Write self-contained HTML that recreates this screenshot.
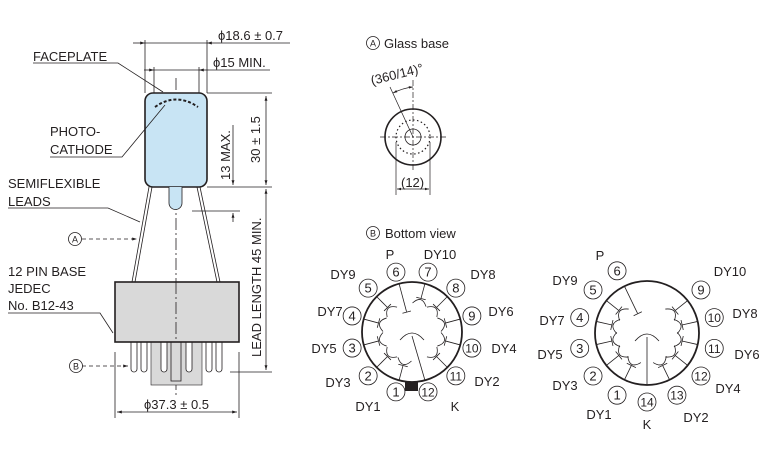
<!DOCTYPE html>
<html><head><meta charset="utf-8"><style>
html,body{margin:0;padding:0;background:#fff;}
svg{display:block;font-family:"Liberation Sans",sans-serif;}
text{fill:#231f20;}
</style></head><body>
<svg id="s" width="768" height="461" viewBox="0 0 768 461" xmlns="http://www.w3.org/2000/svg">
<defs>
<marker id="ar" viewBox="0 0 10 10" refX="10" refY="5" markerWidth="6" markerHeight="6" orient="auto-start-reverse"><path d="M0,2 L10,5 L0,8 z" fill="#231f20"/></marker>
</defs>
<g stroke="#231f20" fill="none" stroke-width="0.8">
<line x1="145" y1="40" x2="145" y2="93"/><line x1="207" y1="40" x2="207" y2="93"/>
<line x1="133" y1="43" x2="145" y2="43" marker-end="url(#ar)"/>
<line x1="145" y1="43" x2="207" y2="43"/>
<line x1="220" y1="43" x2="207" y2="43" marker-end="url(#ar)"/>
<line x1="220" y1="43" x2="290" y2="43"/>
<line x1="154" y1="67" x2="154" y2="100"/><line x1="199" y1="67" x2="199" y2="100"/>
<line x1="144" y1="70" x2="154" y2="70" marker-end="url(#ar)"/>
<line x1="154" y1="70" x2="199" y2="70"/>
<line x1="209" y1="70" x2="199" y2="70" marker-end="url(#ar)"/>
<line x1="209" y1="70" x2="270" y2="70"/>
<line x1="207" y1="93" x2="272" y2="93"/>
<line x1="207" y1="187" x2="272" y2="187"/>
<line x1="192" y1="211" x2="240" y2="211"/>
<line x1="230" y1="372" x2="272" y2="372"/>
<line x1="266" y1="96" x2="266" y2="185" marker-start="url(#ar)" marker-end="url(#ar)"/>
<line x1="266" y1="189" x2="266" y2="370" marker-start="url(#ar)" marker-end="url(#ar)"/>
<line x1="233" y1="125" x2="233" y2="185" marker-end="url(#ar)"/>
<line x1="233" y1="222" x2="233" y2="213" marker-end="url(#ar)"/>
<line x1="176" y1="78" x2="176" y2="395" stroke-dasharray="12,3,2,3"/>
</g>
<rect x="145" y="93" width="62" height="94" rx="8" fill="#c8e4f4" stroke="#231f20" stroke-width="1.6"/>
<path d="M169,187 v16 a6.5,6.5 0 0 0 13,0 v-16" fill="#c8e4f4" stroke="#231f20" stroke-width="0.8"/>
<path d="M155,107 Q176,92 198,107" fill="none" stroke="#231f20" stroke-width="2" stroke-dasharray="3,2"/>
<g stroke="#231f20" stroke-width="0.8" fill="none">
<line x1="149" y1="187" x2="132" y2="282"/><line x1="152" y1="187" x2="135" y2="282"/>
<line x1="197" y1="187" x2="217" y2="282"/><line x1="200" y1="187" x2="220" y2="282"/>
<polyline points="33,63 118,63 163,92"/>
<polyline points="50,157 122,157 165,105"/>
<polyline points="8,208 108,208 140,222"/>
<polyline points="8,313 100,313 113,333"/>
<line x1="82" y1="239" x2="137" y2="239" stroke-dasharray="4,3" marker-end="url(#ar)"/>
<line x1="82" y1="366" x2="128" y2="366" stroke-dasharray="4,3" marker-end="url(#ar)"/>
<circle cx="75" cy="239" r="6.5"/><circle cx="76" cy="366" r="6.5"/>
<line x1="115" y1="352" x2="115" y2="418"/><line x1="239" y1="352" x2="239" y2="418"/>
<line x1="117" y1="412" x2="237" y2="412" marker-start="url(#ar)" marker-end="url(#ar)"/>
</g>
<rect x="151" y="342" width="51" height="43" fill="#d9d9d9" stroke="#231f20" stroke-width="0.6"/>
<g fill="#fff" stroke="#231f20" stroke-width="0.8">
<path d="M131,342 v27 a3,3 0 0 0 6,0 v-27"/><path d="M141,342 v27 a3,3 0 0 0 6,0 v-27"/>
<path d="M161,342 v27 a3,3 0 0 0 6,0 v-27"/><path d="M186,342 v27 a3,3 0 0 0 6,0 v-27"/>
<path d="M206,342 v27 a3,3 0 0 0 6,0 v-27"/><path d="M216,342 v27 a3,3 0 0 0 6,0 v-27"/>
<rect x="171" y="342" width="10" height="39" fill="#d9d9d9"/>
</g>
<rect x="115" y="282" width="124" height="60" fill="#d9d9d9" stroke="#231f20" stroke-width="1.6"/>
<line x1="176" y1="282" x2="176" y2="342" stroke="#231f20" stroke-width="0.8" stroke-dasharray="12,3,2,3"/>
<g font-size="13">
<text x="33" y="61">FACEPLATE</text>
<text x="50" y="136">PHOTO-</text><text x="50" y="154">CATHODE</text>
<text x="8" y="188">SEMIFLEXIBLE</text><text x="8" y="206">LEADS</text>
<text x="8" y="276">12 PIN BASE</text><text x="8" y="293">JEDEC</text><text x="8" y="310">No. B12-43</text>
<text x="218" y="40">ϕ18.6 ± 0.7</text>
<text x="213" y="67">ϕ15 MIN.</text>
<text transform="translate(230,180) rotate(-90)">13 MAX.</text>
<text transform="translate(260,163) rotate(-90)">30 ± 1.5</text>
<text transform="translate(261,357) rotate(-90)">LEAD LENGTH 45 MIN.</text>
<text x="144" y="409">ϕ37.3 ± 0.5</text>
<text x="384" y="48">Glass base</text>
<text x="385" y="238">Bottom view</text>
</g>
<g font-size="9" text-anchor="middle"><text x="75" y="242.5">A</text><text x="76" y="369.5">B</text><text x="373" y="46.5">A</text><text x="373" y="236.5">B</text></g>
<g fill="none" stroke="#231f20" stroke-width="0.8"><circle cx="373" cy="43" r="6.5"/><circle cx="373" cy="233" r="6.5"/></g>
<g fill="none" stroke="#231f20">
<circle cx="413" cy="137" r="28" stroke-width="1.6"/>
<circle cx="413" cy="137" r="8" stroke-width="0.8"/>
<circle cx="413" cy="137" r="17" stroke-width="1.2" stroke-dasharray="1.5,2.5"/>
<line x1="380" y1="137" x2="446" y2="137" stroke-width="0.7" stroke-dasharray="6,2,2,2"/>
<line x1="413" y1="80" x2="413" y2="170" stroke-width="0.7" stroke-dasharray="6,2,2,2"/>
<line x1="390" y1="87" x2="413" y2="137" stroke-width="0.7"/>
<path d="M393,93 Q403,88 413,87" stroke-width="0.7" marker-start="url(#ar)" marker-end="url(#ar)"/>
<line x1="396" y1="142" x2="396" y2="195" stroke-width="0.7"/>
<line x1="430" y1="142" x2="430" y2="195" stroke-width="0.7"/>
<line x1="397" y1="189" x2="429" y2="189" stroke-width="0.7" marker-start="url(#ar)" marker-end="url(#ar)"/>
</g>
<text x="372" y="85" font-size="13" transform="rotate(-14 372 85)">(360/14)°</text>
<text x="401" y="187" font-size="13">(12)</text>
<g id="v1"></g><g id="v2"></g>
<rect x="405" y="382" width="13" height="9" fill="#231f20"/>
<g font-size="13" text-anchor="middle">
<text x="390" y="259">P</text><text x="440" y="259">DY10</text>
<text x="343" y="279">DY9</text><text x="483" y="279">DY8</text>
<text x="330" y="316">DY7</text><text x="501" y="316">DY6</text>
<text x="324" y="353">DY5</text><text x="504" y="353">DY4</text>
<text x="338" y="387">DY3</text><text x="487" y="386">DY2</text>
<text x="368" y="411">DY1</text><text x="455" y="411">K</text>
<text x="600" y="260">P</text><text x="565" y="285">DY9</text><text x="730" y="276">DY10</text>
<text x="552" y="325">DY7</text><text x="745" y="318">DY8</text>
<text x="550" y="359">DY5</text><text x="747" y="359">DY6</text>
<text x="565" y="390">DY3</text><text x="728" y="393">DY4</text>
<text x="599" y="419">DY1</text><text x="696" y="422">DY2</text><text x="647" y="429">K</text>
</g>
</svg>
<script>
var NS="http://www.w3.org/2000/svg";
function el(p,t,a,txt){var e=document.createElementNS(NS,t);for(var k in a)e.setAttribute(k,a[k]);if(txt)e.textContent=txt;p.appendChild(e);return e;}
function P(cx,cy,r,th){var a=th*Math.PI/180;return [cx+r*Math.sin(a),cy-r*Math.cos(a)];}
function view(g,cx,cy,R,pr,pins,kpin,ppin){
 el(g,"circle",{cx:cx,cy:cy,r:R,fill:"none",stroke:"#231f20","stroke-width":1.8});
 pins.forEach(function(p){
  var n=p[0],th=p[1];
  var a=P(cx,cy,pr,th);
  var s="#231f20";
  if(n==kpin){var b=P(cx,cy,R,th);el(g,"line",{x1:b[0],y1:b[1],x2:cx,y2:cy+4,stroke:s,"stroke-width":0.8});
   el(g,"path",{d:"M"+(cx-12)+","+(cy+8)+" Q"+cx+","+(cy-6)+" "+(cx+12)+","+(cy+8),fill:"none",stroke:s,"stroke-width":0.8});}
  else if(n==ppin){var b=P(cx,cy,R,th),c=P(cx,cy,R*0.42,th);el(g,"line",{x1:b[0],y1:b[1],x2:c[0],y2:c[1],stroke:s,"stroke-width":0.8});
   var d1=P(cx,cy,R*0.42,th-12),d2=P(cx,cy,R*0.42,th+12);el(g,"line",{x1:d1[0],y1:d1[1],x2:d2[0],y2:d2[1],stroke:s,"stroke-width":0.8});}
  else{var b=P(cx,cy,R,th),c=P(cx,cy,R*0.7,th);el(g,"line",{x1:b[0],y1:b[1],x2:c[0],y2:c[1],stroke:s,"stroke-width":0.8});
   var d1=P(cx,cy,R*0.7,th-8),d2=P(cx,cy,R*0.7,th+8);el(g,"line",{x1:d1[0],y1:d1[1],x2:d2[0],y2:d2[1],stroke:s,"stroke-width":0.8});
   var e1=P(cx,cy,R*0.58,th-14),e2=P(cx,cy,R*0.58,th+14),m=P(cx,cy,R*0.78,th);
   el(g,"path",{d:"M"+e1[0]+","+e1[1]+" Q"+m[0]+","+m[1]+" "+e2[0]+","+e2[1],fill:"none",stroke:s,"stroke-width":0.8});}
  el(g,"circle",{cx:a[0],cy:a[1],r:9,fill:"#fff",stroke:"#231f20","stroke-width":0.8});
  el(g,"text",{x:a[0],y:a[1]+4.5,"font-size":(n>9?12:13),"text-anchor":"middle"},String(n));
 });
}
var p1=[];for(var k=1;k<=12;k++)p1.push([k,195+30*(k-1)]);
view(document.getElementById("v1"),412,332,50,62,p1,12,6);
var p2=[];for(var k=1;k<=14;k++){if(k==7||k==8)continue;p2.push([k,180+25.714*k]);}
view(document.getElementById("v2"),647,333,52,69,p2,14,6);
</script>
</body></html>
